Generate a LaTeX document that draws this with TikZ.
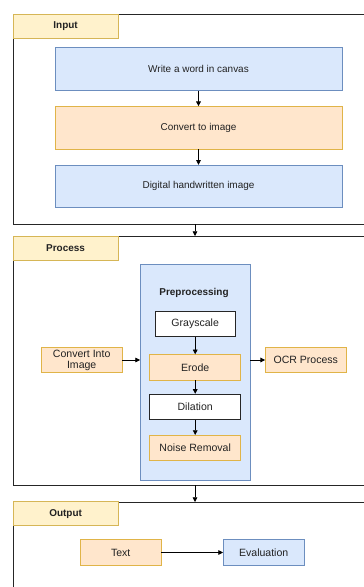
\documentclass[tikz,border=0pt]{standalone}
\usepackage{fontspec}
\setmainfont{Liberation Sans}
\usetikzlibrary{arrows.meta}

\definecolor{blfill}{HTML}{DAE8FC}
\definecolor{bldraw}{HTML}{6C8EBF}
\definecolor{orfill}{HTML}{FFE6CC}
\definecolor{ordraw}{HTML}{E0B448}
\definecolor{tabfill}{HTML}{FFF2CC}
\definecolor{tabdraw}{HTML}{D6B656}
\definecolor{txt}{HTML}{222222}

\tikzset{
  >={Triangle[length=4pt,width=4pt]},
  frame/.style={draw=black!85, line width=0.6pt},
  tab/.style={draw=tabdraw, fill=tabfill, line width=0.6pt, text=txt,
    font=\fontsize{8.5}{10}\selectfont\bfseries, minimum width=3.15cm, minimum height=0.72cm, inner sep=0pt},
  bigbox/.style={draw=bldraw, fill=blfill, line width=0.6pt, text=txt,
    font=\fontsize{8.5}{10}\selectfont, minimum width=8.61cm, minimum height=1.27cm, inner sep=0pt},
  bluebox/.style={draw=bldraw, fill=blfill, line width=0.6pt, text=txt,
    font=\fontsize{9}{10}\selectfont, minimum width=2.42cm, minimum height=0.77cm, inner sep=0pt},
  orbox/.style={draw=ordraw, fill=orfill, line width=0.6pt, text=txt,
    font=\fontsize{9}{10}\selectfont, minimum width=2.42cm, minimum height=0.77cm, inner sep=0pt, align=center},
  whbox/.style={draw=black!85, fill=white, line width=0.6pt, text=txt,
    font=\fontsize{9}{10}\selectfont, minimum width=2.73cm, minimum height=0.76cm, inner sep=0pt},
  link/.style={->, black, line width=0.6pt}
}

\begin{document}
\begin{tikzpicture}[x=0.03cm, y=-0.03cm]
\useasboundingbox (0,0) rectangle (364,587);
\clip (0,0) rectangle (364,587);

% containers
\draw[frame] (13,14.3) -- (13,224.3) -- (380,224.3) ;
\draw[frame] (13,14.3) -- (380,14.3) ;
\draw[frame] (13,236) -- (13,485) -- (380,485) ;
\draw[frame] (13,236) -- (380,236) ;
\draw[frame] (13,502) -- (13,600) ;
\draw[frame] (13,502) -- (380,502) ;

\node[tab] (tinput) at (65.6,26.3) {Input} ;
\node[tab] (tprocess) at (65.6,248) {Process} ;
\node[tab] (toutput) at (65.6,513.7) {Output} ;

% input
\node[bigbox] (write) at (198.5,69) {Write a word in canvas} ;
\node[bigbox, draw=ordraw, fill=orfill] (convert) at (198.5,127.7) {Convert to image} ;
\node[bigbox] (digital) at (198.5,186.3) {Digital handwritten image} ;
\draw[link] (write) -- (convert) ;
\draw[link] (convert) -- (digital) ;

\coordinate (inbot) at (195,224.3) ;
\coordinate (proctop) at (195,236) ;
\draw[link] (inbot) -- (proctop) ;

% process
\node[draw=bldraw, fill=blfill, line width=0.6pt, minimum width=3.29cm, minimum height=6.46cm, inner sep=0pt] (prep) at (195.2,372.4) {} ;
\node[text=txt, font=\fontsize{8.5}{10}\selectfont\bfseries] (preptitle) at (194,293.3) {Preprocessing} ;
\node[whbox, minimum width=2.41cm] (gray) at (195.2,323.8) {Grayscale} ;
\node[orbox, minimum width=2.73cm, minimum height=0.76cm] (erode) at (195.2,367.3) {Erode} ;
\node[whbox] (dilation) at (195.2,406.8) {Dilation} ;
\node[orbox, minimum width=2.73cm, minimum height=0.76cm] (noise) at (195.2,448) {Noise Removal} ;
\draw[link] (gray) -- (erode) ;
\draw[link] (erode) -- (dilation) ;
\draw[link] (dilation) -- (noise) ;

\node[orbox, font=\fontsize{9}{9.5}\selectfont] (cinto) at (81.7,360) {Convert Into\\Image} ;
\node[orbox] (ocr) at (305.8,360) {OCR Process} ;
\draw[link] (cinto) -- (cinto -| prep.west) ;
\draw[link] (prep.east |- ocr) -- (ocr) ;

\coordinate (procbot) at (195,485) ;
\coordinate (outtop) at (195,502) ;
\draw[link] (procbot) -- (outtop) ;

% output
\node[orbox] (text) at (120.7,552.5) {Text} ;
\node[bluebox] (eval) at (263.7,552.5) {Evaluation} ;
\draw[link] (text) -- (eval) ;
\end{tikzpicture}
\end{document}
